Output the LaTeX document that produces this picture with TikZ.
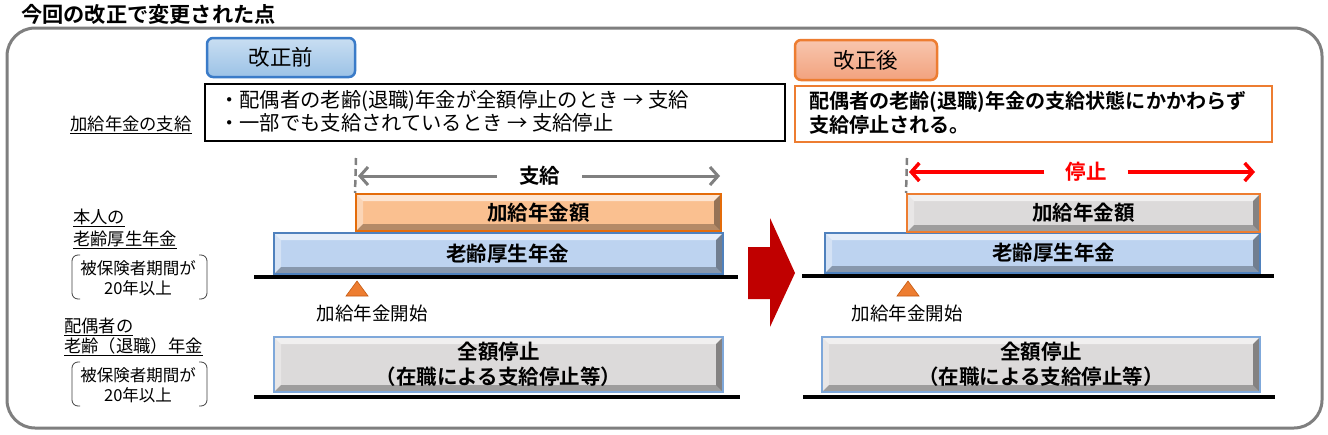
\documentclass[tikz,border=0pt]{standalone}
\usepackage{fontspec}
\setmainfont{Noto Sans CJK JP}[BoldFont={Noto Sans CJK JP Bold}]
\usetikzlibrary{arrows.meta}
\definecolor{frameGray}{HTML}{7F7F7F}
\definecolor{arrGray}{HTML}{808080}
\definecolor{btnBlueT}{HTML}{C9DEF2}
\definecolor{btnBlueB}{HTML}{9BC2E6}
\definecolor{btnBlueD}{HTML}{3A7BC8}
\definecolor{btnOrT}{HTML}{F8C6AE}
\definecolor{btnOrB}{HTML}{F2A27E}
\definecolor{orLine}{HTML}{ED7D31}
\definecolor{orFill}{HTML}{FAC090}
\definecolor{orDark}{HTML}{E46C0A}
\definecolor{blFill}{HTML}{BDD3F0}
\definecolor{blLine}{HTML}{4F81BD}
\definecolor{grFill}{HTML}{DCDADA}
\definecolor{grLine}{HTML}{7FA8DA}
\definecolor{bigRed}{HTML}{C00000}
\definecolor{brightRed}{HTML}{FF0000}
\definecolor{triFill}{HTML}{ED7D31}
\definecolor{triLine}{HTML}{C55A11}
\tikzset{
  bevel/.style={path picture={
    \path (path picture bounding box.north west) coordinate (pNW)
          (path picture bounding box.north east) coordinate (pNE)
          (path picture bounding box.south west) coordinate (pSW)
          (path picture bounding box.south east) coordinate (pSE);
    \fill[white,opacity=.6] (pNW) -- (pNE) -- ([shift={(-7pt,-7pt)}]pNE) -- ([shift={(7pt,-7pt)}]pNW) -- cycle;
    \fill[white,opacity=.35] (pNW) -- ([shift={(7pt,-7pt)}]pNW) -- ([shift={(7pt,7pt)}]pSW) -- (pSW) -- cycle;
    \fill[black,opacity=.4] (pNE) -- (pSE) -- ([shift={(-7pt,7pt)}]pSE) -- ([shift={(-7pt,-7pt)}]pNE) -- cycle;
    \fill[black,opacity=.28] (pSW) -- (pSE) -- ([shift={(-7pt,7pt)}]pSE) -- ([shift={(7pt,7pt)}]pSW) -- cycle;
  }},
  barbox/.style={bevel, inner sep=0pt, line width=2pt, font=\fontsize{20.5}{25}\selectfont\bfseries, align=center},
  orangebar/.style={barbox, fill=orFill, draw=orDark},
  bluebar/.style={barbox, fill=blFill, draw=blLine},
  graybar/.style={barbox, fill=grFill, draw=grLine},
  stopbar/.style={barbox, fill=grFill, draw=orLine},
  button/.style={rounded corners=6pt, line width=2.5pt, inner sep=0pt, font=\fontsize{21.5}{25}\selectfont},
  baseline/.style={line width=4pt, black},
  dashline/.style={arrGray, line width=2.5pt, dash pattern=on 7pt off 4pt},
  grayarrow/.style={arrGray, line width=3pt, -{Straight Barb[length=8pt,width=18pt,line width=3pt]}},
  redarrow/.style={brightRed, line width=3.5pt, -{Straight Barb[length=8pt,width=18pt,line width=3.5pt]}},
  bracket/.style={line width=0.8pt, black!75, rounded corners=6pt},
  lbl/.style={anchor=west, inner sep=0pt, font=\fontsize{17.3}{20}\selectfont},
  brtext/.style={inner sep=0pt, align=center, font=\fontsize{16.5}{20}\selectfont},
  tri/.style={fill=triFill, draw=triLine, line width=0.6pt}
}
\begin{document}
\begin{tikzpicture}[x=1pt,y=-1pt]
\useasboundingbox[fill=white] (0,0) rectangle (1328,434);

% title
\node[anchor=west, inner sep=0pt, font=\fontsize{21.2}{24}\selectfont\bfseries] (title) at (21,14) {今回の改正で変更された点};

% frame
\draw[frameGray, line width=3pt, rounded corners=28pt] (7,28) rectangle (1322,428);

% buttons
\node[button, top color=btnBlueT, bottom color=btnBlueB, draw=btnBlueD, minimum width=148pt, minimum height=39pt] (before) at (281,57.5) {改正前};
\node[button, top color=btnOrT, bottom color=btnOrB, draw=orLine, minimum width=142pt, minimum height=40pt] (after) at (866,60) {改正後};

% condition boxes
\node[draw=black, line width=1.8pt, minimum width=580pt, minimum height=57pt, inner sep=0pt] (beforebox) at (495,112.5) {};
\node[anchor=west, align=left, inner sep=0pt, font=\fontsize{20.3}{23}\selectfont] (beforetext) at (219,111.5) {・配偶者の老齢(退職)年金が全額停止のとき → 支給\\・一部でも支給されているとき → 支給停止};
\node[draw=orLine, line width=1.8pt, minimum width=477pt, minimum height=56pt, inner sep=0pt] (afterbox) at (1033.5,114) {};
\node[anchor=west, align=left, inner sep=0pt, font=\fontsize{20.1}{24}\selectfont\bfseries] (aftertext) at (809,113) {配偶者の老齢(退職)年金の支給状態にかかわらず\\支給停止される。};

\node[inner sep=0pt, font=\fontsize{17.3}{20}\selectfont] (paylbl) at (131,125) {\underline{加給年金の支給}};

% left labels
\node[lbl] (selfA) at (73,218) {\underline{本人の}};
\node[lbl] (selfB) at (73,240) {\underline{老齢厚生年金}};
\node[brtext] (selfC) at (138,278) {被保険者期間が\\20年以上};
\draw[bracket] (80,255) -- (72,255) -- (72,299) -- (80,299);
\draw[bracket] (199,255) -- (207,255) -- (207,299) -- (199,299);
\node[lbl] (spA) at (64,327) {\underline{配偶者の}};
\node[lbl] (spB) at (64,347) {\underline{老齢（退職）年金}};
\node[brtext] (spC) at (138,385) {被保険者期間が\\20年以上};
\draw[bracket] (80,362) -- (72,362) -- (72,406) -- (80,406);
\draw[bracket] (199,362) -- (207,362) -- (207,406) -- (199,406);

% ===== before panel =====
\node[bluebar, minimum width=449pt, minimum height=41pt] (pensionL) at (498.5,253.5) {\hspace{18pt}老齢厚生年金};
\node[orangebar, minimum width=365pt, minimum height=37pt] (addL) at (538.5,212.5) {加給年金額};
\coordinate (dashTopL) at (356,158);
\draw[dashline] (dashTopL) -- (addL.north west);
\node[inner sep=0pt, inner xsep=22pt, font=\fontsize{20.5}{24}\selectfont\bfseries] (payL) at (539.5,176) {支給};
\coordinate (payLeftL) at (358,176);
\coordinate (payRightL) at (720,176);
\draw[grayarrow] (payL.west) -- (payLeftL);
\draw[grayarrow] (payL.east) -- (payRightL);
\coordinate (baseAL1) at (254,277);
\coordinate (baseAL2) at (738,277);
\draw[baseline] (baseAL1) -- (baseAL2);
\draw[tri] (357,281) -- (368,296) -- (346,296) -- cycle;
\node[inner sep=0pt, font=\fontsize{18.5}{22}\selectfont] (startL) at (372,313) {加給年金開始};
\node[graybar, minimum width=449pt, minimum height=55pt] (spouseL) at (498.5,364.5) {全額停止\\（在職による支給停止等）};
\coordinate (baseBL1) at (254,397);
\coordinate (baseBL2) at (740,397);
\draw[baseline] (baseBL1) -- (baseBL2);

% big red arrow
\fill[bigRed] (748,247) -- (770,247) -- (770,218) -- (795,273) -- (770,327) -- (770,299) -- (748,299) -- cycle;

% ===== after panel =====
\node[bluebar, minimum width=435pt, minimum height=40pt] (pensionR) at (1042.5,253) {\hspace{22pt}老齢厚生年金};
\node[stopbar, minimum width=353pt, minimum height=38pt] (addR) at (1083.5,213) {加給年金額};
\coordinate (dashTopR) at (907,158);
\draw[dashline] (dashTopR) -- (addR.north west);
\node[inner sep=0pt, inner xsep=21pt, text=brightRed, font=\fontsize{20.5}{24}\selectfont\bfseries] (stopR) at (1086,172) {停止};
\coordinate (stopLeftR) at (909,172);
\coordinate (stopRightR) at (1255,172);
\draw[redarrow] (stopR.west) -- (stopLeftR);
\draw[redarrow] (stopR.east) -- (stopRightR);
\coordinate (baseAR1) at (802,276);
\coordinate (baseAR2) at (1274,276);
\draw[baseline] (baseAR1) -- (baseAR2);
\draw[tri] (908,281) -- (919,296) -- (897,296) -- cycle;
\node[inner sep=0pt, font=\fontsize{18.5}{22}\selectfont] (startR) at (907,313) {加給年金開始};
\node[graybar, minimum width=438pt, minimum height=55pt] (spouseR) at (1041,364.5) {全額停止\\（在職による支給停止等）};
\coordinate (baseBR1) at (803,397);
\coordinate (baseBR2) at (1275,397);
\draw[baseline] (baseBR1) -- (baseBR2);
\end{tikzpicture}
\end{document}
